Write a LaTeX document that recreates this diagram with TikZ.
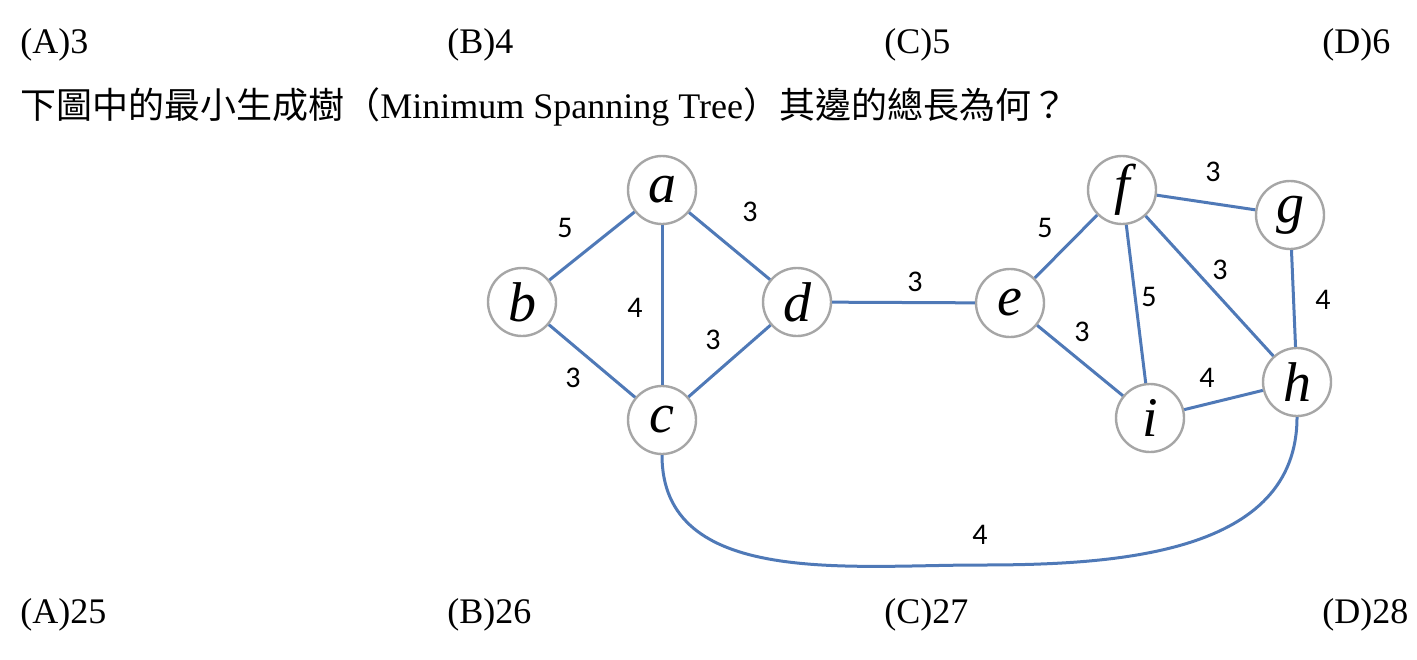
\documentclass[tikz,border=0pt]{standalone}
\usepackage{fontspec}
\setmainfont{Liberation Serif}
\newfontfamily\cjk{Noto Sans CJK TC}
\newfontfamily\wfont{Carlito}
\usetikzlibrary{positioning}
\definecolor{edgeblue}{RGB}{79,121,183}
\tikzset{vert/.style={draw=gray!70, circle, line width=1.2pt, minimum size=34pt, inner sep=0pt, fill=white, font=\fontsize{28}{28}\selectfont\itshape}}
\tikzset{edge/.style={draw=edgeblue, line width=1.5pt}}
\tikzset{wt/.style={font=\wfont\fontsize{15}{15}\selectfont}}
\tikzset{txt/.style={anchor=west, inner sep=0pt, font=\fontsize{18}{18}\selectfont}}
\begin{document}
\begin{tikzpicture}[x=0.5pt, y=-0.5pt]
\useasboundingbox (0,0) rectangle (1417,659);

\node[txt] (qa) at (20,45) {(A)3};
\node[txt] (qb) at (447,45) {(B)4};
\node[txt] (qc) at (884,45) {(C)5};
\node[txt] (qd) at (1322,45) {(D)6};
\node[txt] (title) at (20,107) {{\cjk 下圖中的最小生成樹（}Minimum Spanning Tree{\cjk ）其邊的總長為何？}};

\node[vert] (a) at (662,190) {a};
\node[vert] (b) at (522,302) {b};
\node[vert] (d) at (797,302) {d};
\node[vert] (c) at (662,420) {c};
\node[vert] (e) at (1010,303) {e};
\node[vert] (f) at (1122,190) {f};
\node[vert] (g) at (1290,215) {g};
\node[vert] (h) at (1297,382) {h};
\node[vert] (i) at (1150,418) {i};

\draw[edge] (a) -- (b);
\draw[edge] (a) -- (d);
\draw[edge] (a) -- (c);
\draw[edge] (b) -- (c);
\draw[edge] (c) -- (d);
\draw[edge] (d) -- (e);
\draw[edge] (e) -- (f);
\draw[edge] (e) -- (i);
\draw[edge] (f) -- (i);
\draw[edge] (f) -- (g);
\draw[edge] (f) -- (h);
\draw[edge] (g) -- (h);
\draw[edge] (i) -- (h);
\draw[edge] (c.south) to[out=-90, in=180] (980,565) to[out=0, in=-90] (h.south);

\node[wt] (wab) at (565,228) {5};
\node[wt] (wad) at (750,212) {3};
\node[wt] (wac) at (635,308) {4};
\node[wt] (wbc) at (573,378) {3};
\node[wt] (wcd) at (713,340) {3};
\node[wt] (wde) at (915,282) {3};
\node[wt] (wef) at (1045,228) {5};
\node[wt] (wfi) at (1149,297) {5};
\node[wt] (wei) at (1082,332) {3};
\node[wt] (wfg) at (1213,172) {3};
\node[wt] (wfh) at (1220,270) {3};
\node[wt] (wgh) at (1323,300) {4};
\node[wt] (wih) at (1207,378) {4};
\node[wt] (wch) at (980,535) {4};

\node[txt] (ra) at (20,615) {(A)25};
\node[txt] (rb) at (447,615) {(B)26};
\node[txt] (rc) at (884,615) {(C)27};
\node[txt] (rd) at (1322,615) {(D)28};
\end{tikzpicture}
\end{document}
